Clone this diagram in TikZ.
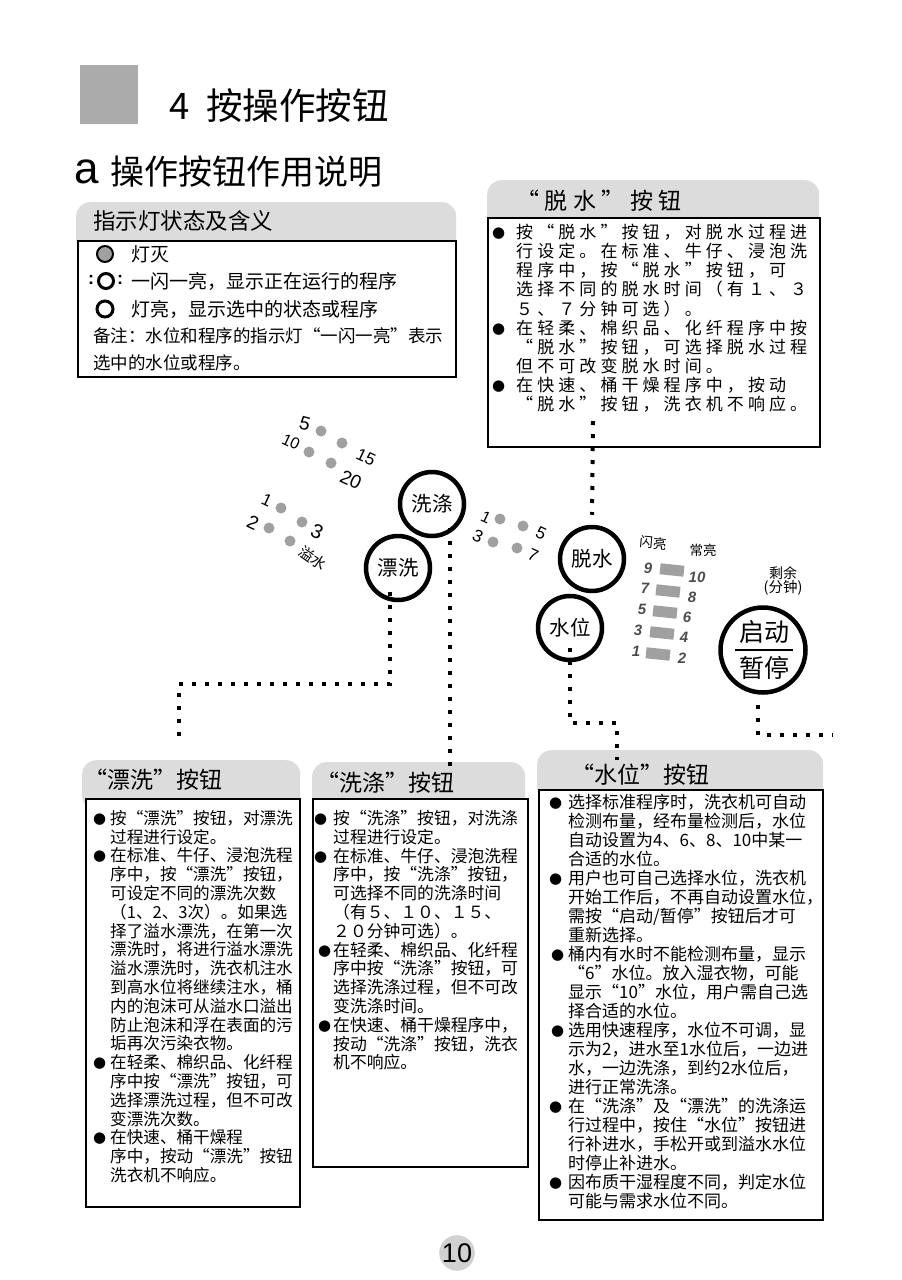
\documentclass[tikz,border=0pt]{standalone}
\usepackage{fontspec}
\setmainfont{Noto Sans CJK SC}
\newfontfamily\arialf{Liberation Sans}
\newfontfamily\symf{DejaVu Sans}
\newfontfamily\widecjk[LetterSpace=24]{Noto Sans CJK SC}
\definecolor{TabGray}{HTML}{DCDCDC}
\definecolor{LampGray}{HTML}{A0A0A0}
\definecolor{BlockGray}{HTML}{ABABAB}
\newcommand\dotitem[1][4pt]{\llap{\raisebox{1pt}{\symf\fontsize{15}{15}\selectfont ●}\hspace{#1}}}

\begin{document}
\begin{tikzpicture}[x=1pt,y=-1pt,
  tab/.style={fill=TabGray,rounded corners=14pt,anchor=north west,inner sep=0pt},
  panel/.style={draw=black,line width=2pt,fill=white,anchor=north west,inner sep=0pt},
  head/.style={anchor=west,inner sep=0pt,font=\fontsize{23}{23}\selectfont},
  row/.style={anchor=west,inner sep=0pt,font=\fontsize{19}{19}\selectfont},
  body/.style={anchor=north west,align=left,inner sep=0pt},
  btn/.style={circle,draw=black,line width=4.5pt,minimum size=64pt,inner sep=0pt,font=\fontsize{20.5}{20.5}\selectfont},
  lamp/.style={circle,fill=LampGray,minimum size=11pt,inner sep=0pt},
  num/.style={inner sep=0pt,rotate=-25,font=\arialf\fontsize{17}{17}\selectfont},
  bar/.style={fill=LampGray,minimum width=24pt,minimum height=11pt,inner sep=0pt,rotate=-6},
  lvl/.style={inner sep=0pt,text=black!70,font=\arialf\bfseries\itshape\fontsize{15}{15}\selectfont},
  dotline/.style={line width=4pt,dash pattern=on 4pt off 9pt}
]
\useasboundingbox (0,0) rectangle (902,1280);

% titles
\node[fill=BlockGray,minimum width=58pt,minimum height=59pt,inner sep=0pt,anchor=north west] (block) at (80,65) {};
\node[anchor=west,inner sep=0pt,font=\fontsize{36.5}{36.5}\selectfont] (title) at (169,106) {4\hspace{17pt}按操作按钮};
\node[anchor=west,inner sep=0pt,font=\arialf\fontsize{44}{44}\selectfont] (suba) at (74,172) {a};
\node[anchor=west,inner sep=0pt,font=\fontsize{34}{34}\selectfont] (subtitle) at (110,172) {操作按钮作用说明};

% indicator box
\node[tab,minimum width=380pt,minimum height=52pt] (lamptab) at (76,202) {};
\node[panel,minimum width=378pt,minimum height=136pt] (lampbox) at (77,240) {};
\node[head,font=\fontsize{22.5}{22.5}\selectfont] (lamphead) at (93,221) {指示灯状态及含义};
\node[lamp,draw=black,line width=2pt,minimum size=16pt] (lampoff) at (105,254) {};
\node[row] (offtxt) at (131,254) {灯灭};
\node[circle,draw=black,line width=3pt,minimum size=15pt,inner sep=0pt] (lampblink) at (106,281) {};
\node[inner sep=0pt,font=\arialf\bfseries\fontsize{18}{18}\selectfont] (blinkl) at (91,280) {:};
\node[inner sep=0pt,font=\arialf\bfseries\fontsize{18}{18}\selectfont] (blinkr) at (120,280) {:};
\node[row] (blinktxt) at (131,281) {一闪一亮，显示正在运行的程序};
\node[circle,draw=black,line width=3pt,minimum size=16pt,inner sep=0pt] (lampon) at (105,309) {};
\node[row] (ontxt) at (131,309) {灯亮，显示选中的状态或程序};
\node[body,font=\fontsize{17.5}{27.5}\selectfont] (note) at (93,327) {备注：水位和程序的指示灯“一闪一亮”表示\\选中的水位或程序。};

% spin box
\node[tab,minimum width=332pt,minimum height=52pt] (spintab) at (487,180) {};
\node[panel,minimum width=332pt,minimum height=229pt] (spinbox) at (487,217) {};
\node[head,font=\widecjk\fontsize{23}{23}\selectfont] (spinhead) at (516,201) {“脱水”按钮};
\node[body,font=\widecjk\fontsize{17}{19.1}\selectfont] (spintxt) at (516,224) {%
\dotitem[11pt]按“脱水”按钮，对脱水过程进\\
行设定。在标准、牛仔、浸泡洗\\
程序中，按“脱水”按钮，可\\
选择不同的脱水时间（有１、３\\
５、７分钟可选）。\\
\dotitem[11pt]在轻柔、棉织品、化纤程序中按\\
“脱水”按钮，可选择脱水过程\\
但不可改变脱水时间。\\
\dotitem[11pt]在快速、桶干燥程序中，按动\\
“脱水”按钮，洗衣机不响应。};

% wash times
\node[lamp] (w5) at (321,431) {};
\node[lamp] (w10) at (309,452) {};
\node[lamp] (w15) at (342,443) {};
\node[lamp] (w20) at (331,463) {};
\node[num,rotate=10,font=\arialf\fontsize{19}{19}\selectfont] (w5t) at (305,424) {5};
\node[num,font=\arialf\fontsize{16}{16}\selectfont] (w10t) at (291,442) {10};
\node[num] (w15t) at (366,457) {15};
\node[num,font=\arialf\fontsize{19}{19}\selectfont] (w20t) at (351,480) {20};

% rinse times
\node[lamp] (r1) at (281,508) {};
\node[lamp] (r2) at (269,528) {};
\node[lamp] (r3) at (302,522) {};
\node[lamp] (rover) at (290,541) {};
\node[num] (r1t) at (267,500) {1};
\node[num,font=\arialf\fontsize{19}{19}\selectfont] (r2t) at (253,523) {2};
\node[num,font=\arialf\fontsize{20}{20}\selectfont] (r3t) at (317,532) {3};
\node[num,rotate=-10,font=\fontsize{15}{15}\selectfont] (rovert) at (313,558) {溢水};

% spin times
\node[lamp] (s1) at (500,519) {};
\node[lamp] (s3) at (493,542) {};
\node[lamp] (s5) at (523,526) {};
\node[lamp] (s7) at (517,548) {};
\node[num,font=\arialf\fontsize{16}{16}\selectfont] (s1t) at (486,517) {1};
\node[num] (s3t) at (478,536) {3};
\node[num] (s5t) at (541,533) {5};
\node[num] (s7t) at (533,555) {7};

% buttons
\node[btn] (wash) at (432,504) {洗涤};
\node[btn] (rinse) at (398,568) {漂洗};
\node[btn] (spin) at (592,559) {脱水};
\node[btn] (level) at (570,628) {水位};
\node[btn,minimum size=85pt] (start) at (763,650) {};
\node[inner sep=0pt,font=\fontsize{25}{25}\selectfont] (starttxt) at (764,632) {启动};
\node[inner sep=0pt,font=\fontsize{25}{25}\selectfont] (pausetxt) at (764,668) {暂停};
\draw[line width=1.5pt] ([xshift=-28pt]start.center) -- ([xshift=30pt]start.center);

% water levels
\node[inner sep=0pt,rotate=-5,font=\fontsize{13.5}{13.5}\selectfont] (flash) at (653,543) {闪亮};
\node[inner sep=0pt,font=\fontsize{13.5}{13.5}\selectfont] (steady) at (703,550) {常亮};
\node[bar] (b10) at (672,570) {};
\node[bar] (b8) at (668,591) {};
\node[bar] (b6) at (665,612) {};
\node[bar] (b4) at (662,633) {};
\node[bar] (b2) at (658,654) {};
\node[lvl] (l9) at (648,568) {9};
\node[lvl] (l7) at (645,588) {7};
\node[lvl] (l5) at (642,609) {5};
\node[lvl] (l3) at (638,630) {3};
\node[lvl] (l1) at (636,651) {1};
\node[lvl] (l10) at (697,577) {10};
\node[lvl] (l8) at (692,597) {8};
\node[lvl] (l6) at (687,617) {6};
\node[lvl] (l4) at (684,637) {4};
\node[lvl] (l2) at (682,658) {2};
\node[inner sep=0pt,font=\fontsize{14}{14}\selectfont] (remain) at (783,573) {剩余};
\node[inner sep=0pt,font=\fontsize{14.5}{14.5}\selectfont] (minutes) at (783,588) {(分钟)};

% rinse box
\node[tab,minimum width=218pt,minimum height=50pt] (rinsetab) at (82,760) {};
\node[panel,minimum width=214pt,minimum height=408pt] (rinsebox) at (85,798) {};
\node[head] (rinsehead) at (84,780) {“漂洗”按钮};
\node[body,font=\fontsize{16.6}{18.8}\selectfont] (rinsetxt) at (110,810) {%
\dotitem 按“漂洗”按钮，对漂洗\\
过程进行设定。\\
\dotitem 在标准、牛仔、浸泡洗程\\
序中，按“漂洗”按钮，\\
可设定不同的漂洗次数\\
（1、2、3次）。如果选\\
择了溢水漂洗，在第一次\\
漂洗时，将进行溢水漂洗\\
溢水漂洗时，洗衣机注水\\
到高水位将继续注水，桶\\
内的泡沫可从溢水口溢出\\
防止泡沫和浮在表面的污\\
垢再次污染衣物。\\
\dotitem 在轻柔、棉织品、化纤程\\
序中按“漂洗”按钮，可\\
选择漂洗过程，但不可改\\
变漂洗次数。\\
\dotitem 在快速、桶干燥程\\
序中，按动“漂洗”按钮\\
洗衣机不响应。};

% wash box
\node[tab,minimum width=213pt,minimum height=50pt] (washtab) at (312,762) {};
\node[panel,minimum width=215pt,minimum height=368pt] (washbox) at (312,798) {};
\node[head] (washhead) at (316,783) {“洗涤”按钮};
\node[body,font=\fontsize{16.8}{18.8}\selectfont] (washtxt) at (333,810) {%
\dotitem[6pt]按“洗涤”按钮，对洗涤\\
过程进行设定。\\
\dotitem[6pt]在标准、牛仔、浸泡洗程\\
序中，按“洗涤”按钮，\\
可选择不同的洗涤时间\\
（有５、１０、１５、\\
２０分钟可选）。\\
\dotitem[2pt]在轻柔、棉织品、化纤程\\
序中按“洗涤”按钮，可\\
选择洗涤过程，但不可改\\
变洗涤时间。\\
\dotitem[2pt]在快速、桶干燥程序中，\\
按动“洗涤”按钮，洗衣\\
机不响应。};

% level box
\node[tab,minimum width=286pt,minimum height=52pt] (leveltab) at (537,750) {};
\node[panel,minimum width=284pt,minimum height=430pt] (levelbox) at (538,789) {};
\node[head] (levelhead) at (571,775) {“水位”按钮};
\node[body,font=\fontsize{17}{19}\selectfont] (leveltxt) at (568,794) {%
\dotitem[6pt]选择标准程序时，洗衣机可自动\\
检测布量，经布量检测后，水位\\
自动设置为4、6、8、10中某一\\
合适的水位。\\
\dotitem[6pt]用户也可自己选择水位，洗衣机\\
开始工作后，不再自动设置水位，\\
需按“启动/暂停”按钮后才可\\
重新选择。\\
\dotitem 桶内有水时不能检测布量，显示\\
“6”水位。放入湿衣物，可能\\
显示“10”水位，用户需自己选\\
择合适的水位。\\
\dotitem 选用快速程序，水位不可调，显\\
示为2，进水至1水位后，一边进\\
水，一边洗涤，到约2水位后，\\
进行正常洗涤。\\
\dotitem[6pt]在“洗涤”及“漂洗”的洗涤运\\
行过程中，按住“水位”按钮进\\
行补进水，手松开或到溢水水位\\
时停止补进水。\\
\dotitem[6pt]因布质干湿程度不同，判定水位\\
可能与需求水位不同。};

% dotted leaders
\coordinate (spinfrom) at (593,421);
\coordinate (rinsebend) at (179,684);
\coordinate (rinseend) at (179,744);
\coordinate (washend) at (450,772);
\coordinate (levelbend) at (617,723);
\coordinate (levelend) at (617,760);
\coordinate (startend) at (832,735);
\draw[dotline] (spinfrom) -- ([yshift=10pt]spin.north);
\draw[dotline] ([xshift=-8pt,yshift=-24pt]rinse.center) |- (rinsebend) -- (rinseend);
\draw[dotline] ([xshift=18pt,yshift=-24pt]wash.center) -- (washend);
\draw[dotline] ([yshift=-20pt]level.center) |- (levelbend) -- (levelend);
\draw[dotline] ([xshift=-5pt,yshift=-10pt]start.south) |- (startend);

% page number
\node[circle,fill=black!18,minimum size=35pt,inner sep=0pt,font=\arialf\fontsize{27}{27}\selectfont] (page) at (457,1253) {10};
\end{tikzpicture}
\end{document}
